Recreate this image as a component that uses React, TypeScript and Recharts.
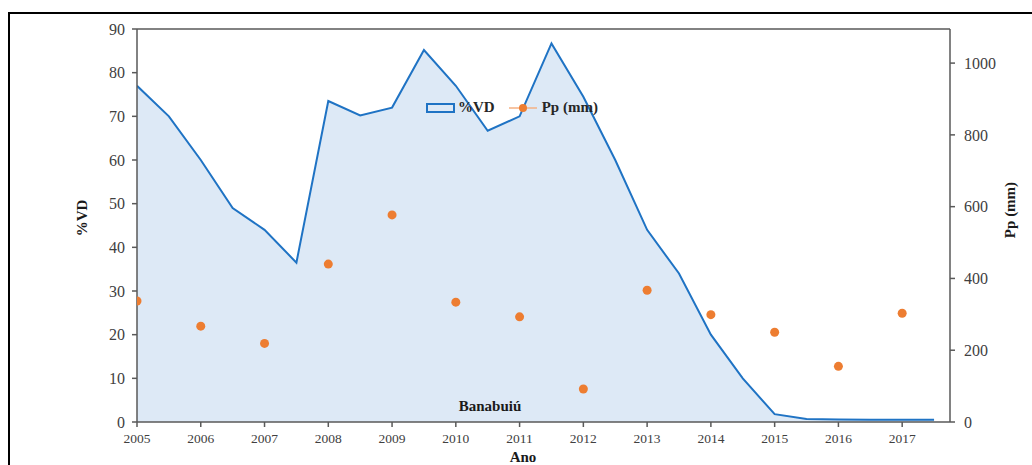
import {
  ComposedChart,
  Area,
  Scatter,
  XAxis,
  YAxis,
  ReferenceLine,
} from 'recharts'

// %VD every half year, from 2005 to 2017.5
const vdAnos = [
  2005, 2005.5, 2006, 2006.5, 2007, 2007.5, 2008, 2008.5, 2009, 2009.5, 2010, 2010.5, 2011,
  2011.5, 2012, 2012.5, 2013, 2013.5, 2014, 2014.5, 2015, 2015.5, 2016, 2016.5, 2017, 2017.5,
]
const vdValores = [
  77, 70, 60, 49, 44, 36.5, 73.5, 70.2, 72, 85.2, 77, 66.7, 70, 86.7, 74.5, 60, 44, 34, 20,
  10, 1.8, 0.7, 0.6, 0.5, 0.5, 0.5,
]

// precipitation per year (mm)
const ppAnos = [2005, 2006, 2007, 2008, 2009, 2010, 2011, 2012, 2013, 2014, 2015, 2016, 2017]
const ppValores = [337, 267, 219, 440, 577, 334, 293, 92, 367, 299, 250, 155, 303]

const xTicks = [2005, 2006, 2007, 2008, 2009, 2010, 2011, 2012, 2013, 2014, 2015, 2016, 2017]
const leftTicks = [0, 10, 20, 30, 40, 50, 60, 70, 80, 90]
const rightTicks = [0, 200, 400, 600, 800, 1000]

const vdData = vdAnos.map((ano, i) => ({ ano, vd: vdValores[i] }))
const ppData = ppAnos.map((ano, i) => ({ ano, pp: ppValores[i] }))

const serif = '"Liberation Serif", "Times New Roman", serif'
const tickColor = '#404040'
const axisColor = '#595959'

const titleStyle = {
  position: 'absolute' as const,
  fontFamily: serif,
  fontWeight: 700,
  fontSize: 15,
  color: '#1a1a1a',
  whiteSpace: 'nowrap' as const,
}

function ChartLegend() {
  return (
    <div
      style={{
        position: 'absolute',
        left: 426,
        top: 99,
        display: 'flex',
        alignItems: 'center',
        fontFamily: serif,
        fontWeight: 700,
        fontSize: 15,
        color: '#262626',
      }}
    >
      <svg width={30} height={12} style={{ marginRight: 2 }}>
        <rect x={1} y={2} width={27} height={8} fill="#dde9f6" stroke="#1f73c4" strokeWidth={2} />
      </svg>
      <span style={{ marginRight: 14 }}>%VD</span>
      <svg width={30} height={12} style={{ marginRight: 3 }}>
        <line x1={0} y1={6} x2={28} y2={6} stroke="#f4b183" strokeWidth={1.5} />
        <circle cx={14} cy={6} r={4} fill="#ed7d31" />
      </svg>
      <span>Pp (mm)</span>
    </div>
  )
}

export default function App() {
  return (
    <div
      style={{
        position: 'fixed',
        top: 0,
        left: 0,
        width: 1032,
        height: 465,
        overflow: 'hidden',
        background: '#fff',
      }}
    >
      <div
        style={{
          position: 'absolute',
          left: 8,
          top: 12,
          width: 1100,
          height: 500,
          border: '2px solid #000',
          boxSizing: 'border-box',
        }}
      />
      <div style={{ position: 'absolute', left: 0, top: 0 }}>
        <ComposedChart width={1032} height={465} margin={{ top: 29, right: 22, left: 77, bottom: 0 }}>
          <XAxis
            dataKey="ano"
            type="number"
            domain={[2005, 2017.75]}
            ticks={xTicks}
            allowDataOverflow
            height={43}
            tick={{ fill: tickColor, fontSize: 13.5, fontFamily: serif }}
            tickSize={5}
            tickMargin={6}
            stroke={axisColor}
            strokeWidth={1.5}
          />
          <YAxis
            yAxisId="left"
            domain={[0, 90]}
            ticks={leftTicks}
            width={60}
            tick={{ fill: tickColor, fontSize: 16, fontFamily: serif }}
            tickSize={5}
            tickMargin={7}
            stroke={axisColor}
            strokeWidth={1.5}
          />
          <YAxis
            yAxisId="right"
            orientation="right"
            domain={[0, 1095]}
            ticks={rightTicks}
            width={60}
            tick={{ fill: tickColor, fontSize: 16, fontFamily: serif }}
            tickSize={5}
            tickMargin={9}
            stroke={axisColor}
            strokeWidth={1.5}
          />
          <ReferenceLine yAxisId="left" y={90} stroke={axisColor} strokeWidth={1.5} />
          <Area
            yAxisId="left"
            data={vdData}
            dataKey="vd"
            type="linear"
            stroke="#1f73c4"
            strokeWidth={2}
            fill="#dde9f6"
            fillOpacity={1}
            isAnimationActive={false}
            dot={false}
            activeDot={false}
          />
          <Scatter
            yAxisId="right"
            data={ppData}
            dataKey="pp"
            fill="#ed7d31"
            shape={(p: any) => <circle cx={p.cx} cy={p.cy} r={4.5} fill="#ed7d31" />}
            isAnimationActive={false}
          />
        </ComposedChart>
      </div>
      <ChartLegend />
      <div style={{ ...titleStyle, left: 82, top: 218, transform: 'translate(-50%, -50%) rotate(-90deg)' }}>
        %VD
      </div>
      <div style={{ ...titleStyle, left: 1010, top: 210, transform: 'translate(-50%, -50%) rotate(-90deg)' }}>
        Pp (mm)
      </div>
      <div style={{ ...titleStyle, left: 523, top: 457, transform: 'translate(-50%, -50%)' }}>Ano</div>
      <div style={{ ...titleStyle, left: 490, top: 406, transform: 'translate(-50%, -50%)' }}>Banabuiú</div>
    </div>
  )
}
